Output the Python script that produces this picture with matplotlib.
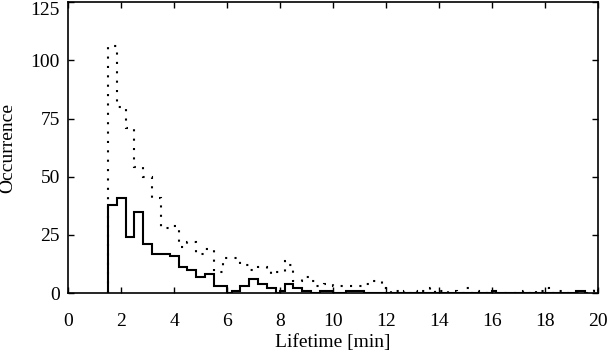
import matplotlib
matplotlib.use('Agg')
import matplotlib.pyplot as plt

plt.rcParams['font.family'] = ['Liberation Serif', 'DejaVu Serif']
plt.rcParams['font.size'] = 14

# solid histogram (bin edges in minutes, counts)
solid_edges = [1.5, 1.833, 2.167, 2.5, 2.833, 3.167, 3.5, 3.833, 4.167, 4.5,
               4.833, 5.167, 5.5, 5.833, 6.0, 6.167, 6.5, 6.833, 7.167, 7.5,
               7.833, 8.0, 8.167, 8.5, 8.833, 9.167, 9.5, 10.0, 10.5, 11.167,
               16.0, 16.167, 19.167, 19.5]
solid_counts = [38, 41, 24, 35, 21, 17, 17, 16, 11, 10,
                7, 8, 3, 3, 0, 1, 3, 6, 4, 2,
                0, 1, 4, 2, 1, 0, 1, 0, 1, 0,
                1, 0, 1]

# dotted histogram
dot_edges = [1.5, 1.833, 2.167, 2.5, 2.833, 3.167, 3.5, 3.833, 4.167, 4.5,
             4.833, 5.167, 5.5, 5.833, 6.167, 6.5, 6.833, 7.167, 7.5, 7.667,
             7.833, 8.167, 8.333, 8.5, 8.833, 9.167, 9.333, 9.667, 10.0, 11.167,
             11.5, 11.833, 12.0, 12.167, 12.333, 12.5, 12.667, 12.833, 13.0, 13.167,
             13.333, 13.667, 13.833, 14.0, 14.167, 14.333, 14.667, 15.0, 15.167, 15.333,
             15.5, 17.167, 17.333, 17.5, 17.667, 17.833, 18.0, 18.167, 18.5, 18.667,
             19.667, 19.833, 20.0]
dot_counts = [106, 80, 71, 54, 50, 41, 28, 29, 20, 22,
              17, 19, 9, 15, 15, 12, 10, 11, 10, 8,
              9, 14, 12, 5, 7, 5, 3, 4, 3, 4,
              5, 2, 1, 0, 1, 0, 1, 0, 1, 0,
              1, 2, 0, 1, 0, 1, 0, 2, 0, 1,
              0, 1, 0, 1, 0, 1, 2, 0, 1, 0,
              1, 2]

fig = plt.figure(figsize=(6.09, 3.57), dpi=100)
ax = fig.add_axes([0.112, 0.179, 0.870, 0.815])

ax.stairs(dot_counts, dot_edges, color='black', lw=1.5, linestyle=(0, (1, 3.5)))
ax.stairs(solid_counts, solid_edges, color='black', lw=1.5)

ax.set_xlim(0, 20)
ax.set_ylim(0, 125)
ax.set_xticks(range(0, 21, 2))
ax.set_yticks(range(0, 126, 25))
ax.tick_params(direction='in', top=True, right=True, length=4, width=1)
ax.tick_params(axis='x', pad=14)
ax.tick_params(axis='y', pad=6)
# top label sits just below the frame edge, as in the original
ax.get_yticklabels()[-1].set_verticalalignment('top')
for s in ax.spines.values():
    s.set_linewidth(1.2)

ax.set_xlabel('Lifetime [min]', labelpad=3)
ax.set_ylabel('Occurrence')
ax.yaxis.set_label_coords(-0.098, 0.5)

fig.savefig('out.png', dpi=100)
